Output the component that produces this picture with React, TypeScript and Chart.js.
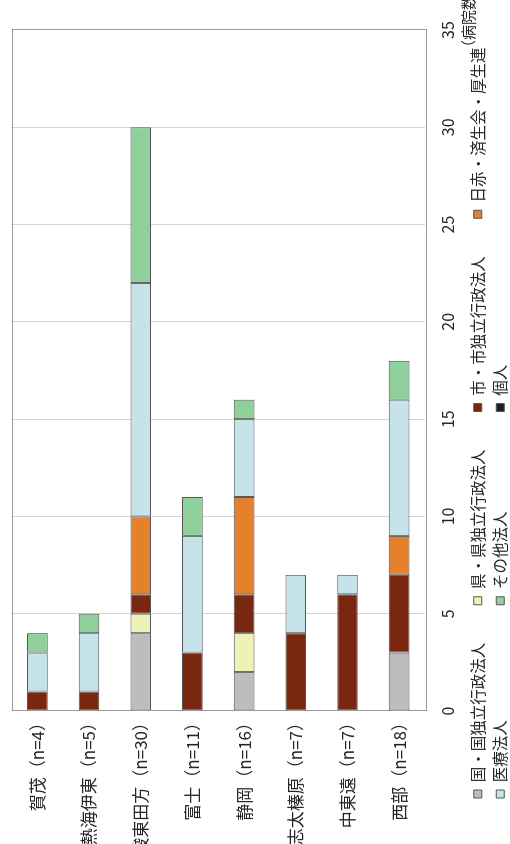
import React, { useEffect, useRef } from 'react';
import { Chart, registerables } from 'chart.js';

Chart.register(...registerables);

// ---- data ----
const categories = [
  '賀茂（n=4）',
  '熱海伊東（n=5）',
  '駿東田方（n=30）',
  '富士（n=11）',
  '静岡（n=16）',
  '志太榛原（n=7）',
  '中東遠（n=7）',
  '西部（n=18）',
];

const seriesNames = [
  '国・国独立行政法人',
  '県・県独立行政法人',
  '市・市独立行政法人',
  '日赤・済生会・厚生連',
  '医療法人',
  'その他法人',
  '個人',
];

const kuni = [0, 0, 4, 0, 2, 0, 0, 3];
const ken = [0, 0, 1, 0, 2, 0, 0, 0];
const shi = [1, 1, 1, 3, 2, 4, 6, 4];
const nisseki = [0, 0, 4, 0, 5, 0, 0, 2];
const iryo = [2, 3, 12, 6, 4, 3, 1, 7];
const sonota = [1, 1, 8, 2, 1, 0, 0, 2];
const kojin = [0, 0, 0, 0, 0, 0, 0, 0];

const seriesValues = [kuni, ken, shi, nisseki, iryo, sonota, kojin];
const seriesColors = ['#bdbdbd', '#eef2b6', '#7a2712', '#e5802c', '#c6e3ea', '#8fd09b', '#1c1c2e'];

const valueMin = 0;
const valueMax = 35;
const valueStep = 5;
const unitLabel = '（病院数）';

const FONT = '"Noto Sans CJK JP", "Noto Sans CJK SC", sans-serif';
const TEXT = '#262626';
const LEGEND_OFFSET = 39;

const framePlugin = {
  id: 'frame',
  afterDatasetsDraw(chart: any) {
    const { ctx, chartArea } = chart;
    ctx.save();
    ctx.strokeStyle = '#9a9a9a';
    ctx.lineWidth = 1;
    ctx.strokeRect(
      Math.round(chartArea.left) + 0.5,
      Math.round(chartArea.top) + 0.5,
      Math.round(chartArea.right - chartArea.left),
      Math.round(chartArea.bottom - chartArea.top)
    );
    ctx.restore();
  },
};

const legendShiftPlugin = {
  id: 'legendShift',
  afterLayout(chart: any) {
    if (chart.legend) chart.legend.left = LEGEND_OFFSET;
  },
};

const unitPlugin = {
  id: 'unitLabel',
  afterDraw(chart: any) {
    const { ctx, chartArea, scales } = chart;
    ctx.save();
    ctx.font = `15px ${FONT}`;
    ctx.fillStyle = TEXT;
    ctx.textBaseline = 'middle';
    ctx.textAlign = 'left';
    ctx.fillText(unitLabel, scales.x.getPixelForValue(valueMax) - 25, chartArea.bottom + 43);
    ctx.restore();
  },
};

export default function App() {
  const canvasRef = useRef<HTMLCanvasElement | null>(null);

  useEffect(() => {
    const canvas = canvasRef.current;
    if (!canvas) return;
    Chart.defaults.font.family = FONT;
    Chart.defaults.color = TEXT;

    const chart = new Chart(canvas, {
      type: 'bar',
      data: {
        labels: categories,
        datasets: seriesNames.map((name, i) => ({
          label: name,
          data: seriesValues[i],
          backgroundColor: seriesColors[i],
          borderColor: '#555555',
          borderWidth: 1,
          borderSkipped: false,
          categoryPercentage: 0.8,
          barPercentage: 0.5,
        })),
      },
      options: {
        indexAxis: 'y',
        responsive: false,
        animation: false,
        devicePixelRatio: 1,
        layout: { padding: { left: 0, right: 30, top: 11, bottom: 0 } },
        scales: {
          x: {
            stacked: true,
            min: valueMin,
            max: valueMax,
            ticks: { stepSize: valueStep, padding: 13, maxRotation: 0, font: { size: 16 }, color: TEXT },
            grid: { color: '#d2d2d2', drawTicks: false, lineWidth: 1 },
            border: { display: false },
            afterFit: (s: any) => {
              s.height = 38;
            },
          },
          y: {
            stacked: true,
            ticks: { padding: 3, autoSkip: false, font: { size: 17, lineHeight: 1 }, color: TEXT },
            grid: { display: false, drawTicks: false },
            border: { display: false },
            afterFit: (s: any) => {
              s.width = 133;
            },
          },
        },
        plugins: {
          tooltip: { enabled: false },
          legend: {
            position: 'bottom',
            align: 'start',
            labels: {
              boxWidth: 8,
              boxHeight: 8,
              padding: 7,
              color: TEXT,
              font: { size: 15.5 },
              generateLabels: (c: any) => {
                const base = Chart.defaults.plugins.legend.labels.generateLabels(c);
                return base.map((item: any, i: number) => ({
                  ...item,
                  text: String(item.text).padEnd(10, '\u3000') + (i === 3 ? '' : '\u2002\u2002'),
                }));
              },
            },
          },
        },
      },
      plugins: [framePlugin, legendShiftPlugin, unitPlugin],
    } as any);

    return () => chart.destroy();
  }, []);

  return (
    <div
      style={{
        position: 'fixed',
        left: 0,
        top: 0,
        width: 510,
        height: 844,
        overflow: 'hidden',
        background: '#ffffff',
      }}
    >
      <div
        style={{
          position: 'absolute',
          left: 0,
          top: 0,
          width: 844,
          height: 518,
          transformOrigin: '0 0',
          transform: 'translateY(844px) rotate(-90deg)',
        }}
      >
        <canvas ref={canvasRef} width={844} height={518} style={{ width: 844, height: 518, display: 'block' }} />
      </div>
    </div>
  );
}
